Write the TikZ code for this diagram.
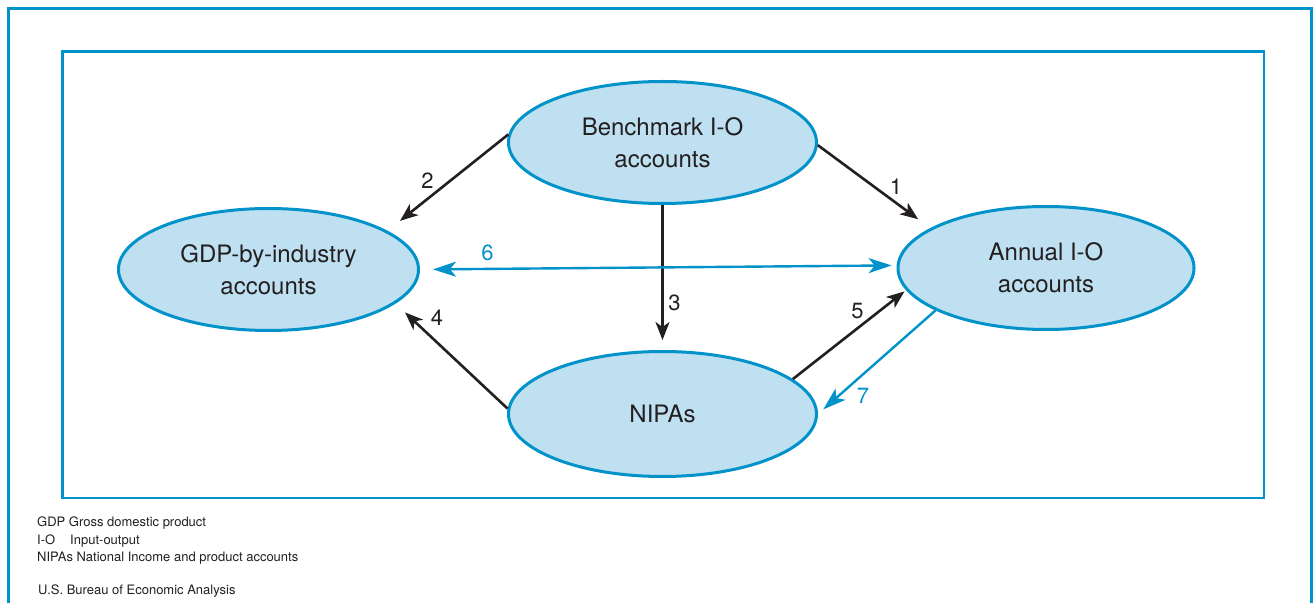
\documentclass[tikz,border=0pt]{standalone}
\usepackage{fontspec}
\setmainfont{TeX Gyre Heros}
\usetikzlibrary{arrows.meta,shapes.geometric,calc}
\definecolor{bblue}{RGB}{0,146,201}
\definecolor{bfill}{RGB}{190,224,241}
\definecolor{bblack}{RGB}{35,31,32}
\begin{document}
\begin{tikzpicture}[x=1pt,y=1pt,
  acct/.style={ellipse, draw=bblue, fill=bfill, line width=3pt, inner sep=0pt,
    align=center, font=\fontsize{24}{32}\selectfont, text=bblack},
  blk/.style={draw=bblack, line width=2.6pt, -{Stealth[length=18pt,width=14pt,inset=5pt]}},
  blu/.style={draw=bblue, line width=2.4pt, -{Stealth[length=23pt,width=15pt,inset=6pt]}},
  num/.style={font=\fontsize{22}{22}\selectfont, text=bblack, inner sep=0pt},
  bnum/.style={num, text=bblue},
  frame/.style={draw=bblue, line width=2.9pt},
  legend/.style={font=\fontsize{13}{18}\selectfont, anchor=base west, inner sep=0pt, text=bblack}]
\useasboundingbox (0,0) rectangle (1314,603);
% frames
\draw[frame] (8.7,0) -- (8.7,594.3) -- (1311.3,594.3) -- (1311.3,0);
\draw[frame] (62.2,105) rectangle (1264,551.7);
% nodes
\node[acct, minimum width=308pt, minimum height=122pt] (bench) at (662.5,460.5) {Benchmark I-O\\accounts};
\node[acct, minimum width=300pt, minimum height=122pt] (gdp) at (268.5,333.5) {GDP-by-industry\\accounts};
\node[acct, minimum width=296pt, minimum height=123pt] (annual) at (1046,335) {Annual I-O\\accounts};
\node[acct, minimum width=308pt, minimum height=125pt] (nipas) at (662.5,189) {NIPAs};
% connectors
\draw[blk, shorten >=15pt] (bench.-1) -- (annual.161);
\draw[blk, shorten >=16pt] (bench.177) -- (gdp.18);
\draw[blk, shorten >=10pt] (bench.south) -- (nipas.north);
\draw[blk, shorten >=13pt] (nipas.178) -- (gdp.-15);
\draw[blk, shorten >=2pt] (nipas.15) -- (annual.189);
\draw[blu, {Stealth[length=23pt,width=15pt,inset=6pt]}-{Stealth[length=23pt,width=15pt,inset=6pt]}, shorten <=13pt, shorten >=5pt] (gdp.0.5) -- (annual.179);
\draw[blu, shorten >=7pt] (annual.201) -- (nipas.0);
% labels
\node[num] (n1) at (896,416) {1};
\node[num] (n2) at (427.5,422.7) {2};
\node[num] (n3) at (674.5,299.7) {3};
\node[num] (n4) at (437,285) {4};
\node[num] (n5) at (857.5,292) {5};
\node[bnum] (n6) at (487.5,350) {6};
\node[bnum] (n7) at (863,207) {7};
% legend
\node[legend] (l1) at (37,76.3) {GDP Gross domestic product};
\node[legend] (l2) at (37,59) {I-O};
\node[legend] (l2b) at (70,59) {Input-output};
\node[legend] (l3) at (37,41.3) {NIPAs National Income and product accounts};
\node[legend] (l4) at (38,9) {U.S. Bureau of Economic Analysis};
\end{tikzpicture}
\end{document}
